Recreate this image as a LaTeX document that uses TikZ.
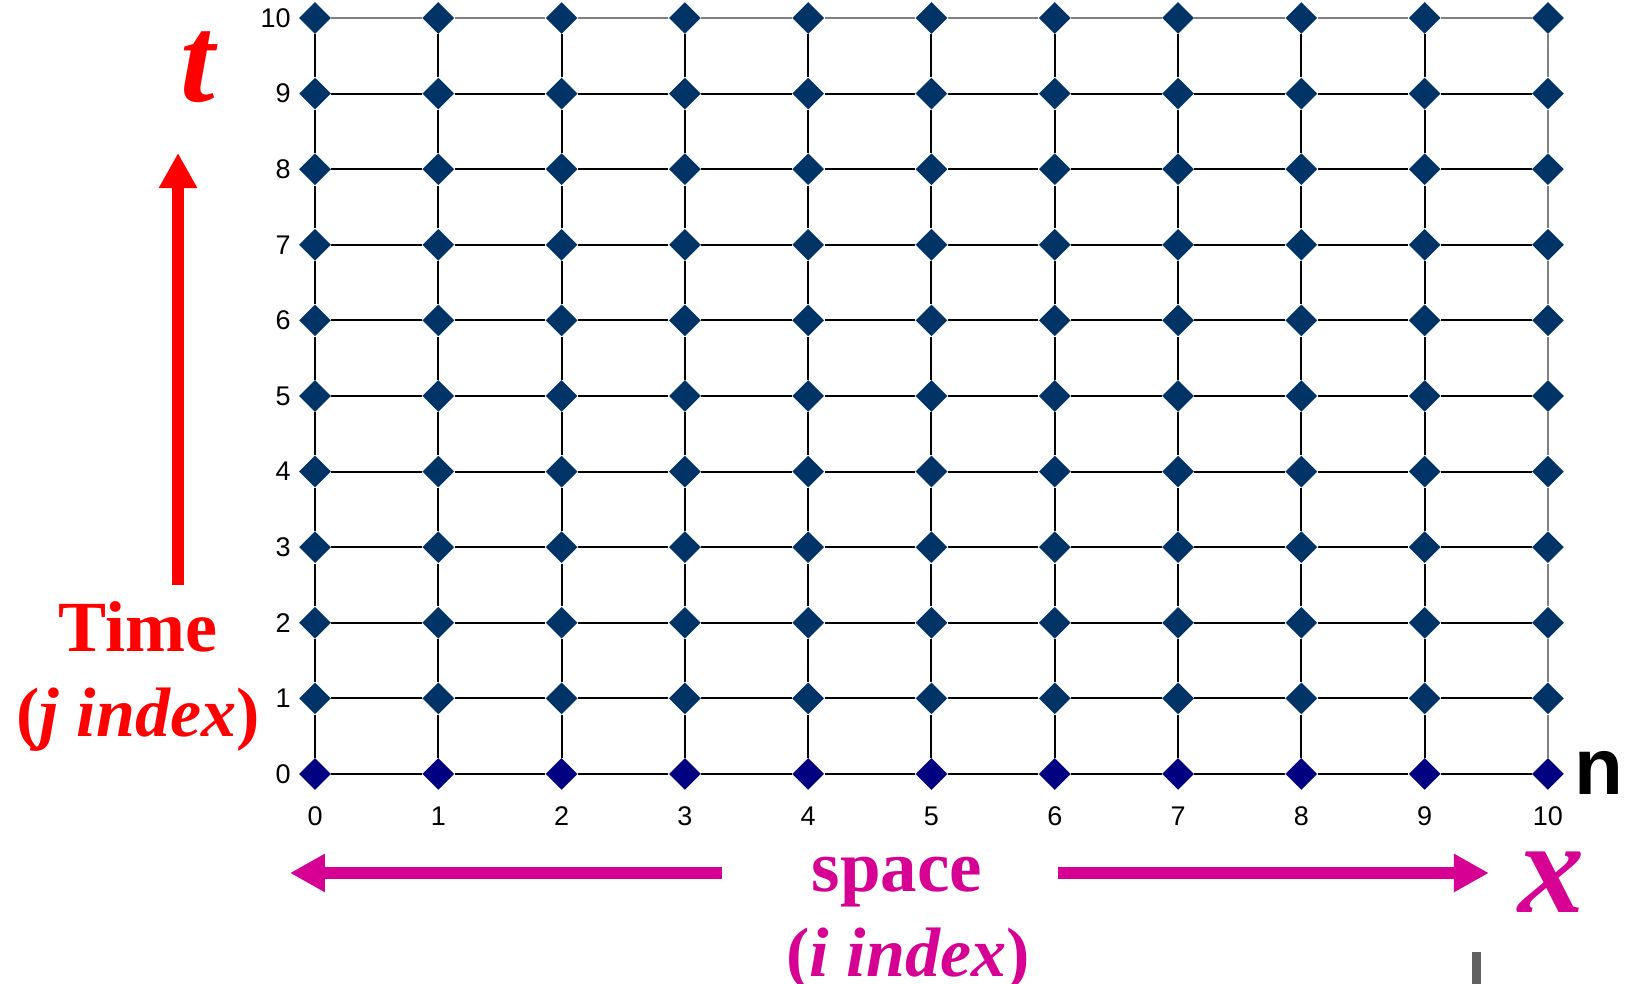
\documentclass[tikz,border=0pt]{standalone}
\usepackage{fontspec}
\setmainfont{Liberation Serif}
\setsansfont{Liberation Sans}
\usetikzlibrary{shapes.geometric,arrows.meta}
\definecolor{gridnode}{RGB}{0,51,102}
\definecolor{basenode}{RGB}{0,0,128}
\definecolor{timecol}{RGB}{255,0,0}
\definecolor{spacecol}{RGB}{214,0,147}
\definecolor{edgegray}{RGB}{128,128,128}

\begin{document}
\begin{tikzpicture}[x=61.65pt,y=37.8pt,
  mesh/.style={diamond,minimum width=16pt,minimum height=16pt,inner sep=0pt},
  gridline/.style={line width=1pt},
  tick/.style={font=\sffamily\fontsize{13.5}{13.5}\selectfont,inner sep=0pt},
  bigarrow/.style={line width=6pt,-{Triangle[length=17.5pt,width=18pt]}}]
\useasboundingbox (-2.555,-2.778) rectangle (10.625,10.238);
% mesh points
\foreach \i in {0,...,10}{
  \foreach \j in {0,...,10}{
    \ifnum\j=0 \def\fc{basenode}\else\def\fc{gridnode}\fi
    \node[mesh,fill=\fc] (p\i-\j) at (\i,\j) {};
  }
}
% mesh lines
\foreach \i in {0,...,9}{
  \pgfmathtruncatemacro\k{\i+1}
  \foreach \j in {0,...,10}{
    \ifnum\j=10 \def\lc{edgegray}\else\def\lc{black}\fi
    \draw[gridline,\lc] (p\i-\j) -- (p\k-\j);
    \draw[gridline,\lc] (p\j-\i) -- (p\j-\k);
  }
}
% axis numbers
\foreach \j in {0,...,10}{ \node[tick,anchor=east] (yl\j) at (-0.195,\j) {\j}; }
\foreach \i in {0,...,10}{ \node[tick] (xl\i) at (\i,-0.556) {\i}; }
\node[font=\sffamily\bfseries\fontsize{40}{40}\selectfont,anchor=base,inner sep=0pt] (nlbl) at (10.414,-0.278) {n};
% time axis
\coordinate (tlow) at (-1.111,2.5);
\coordinate (thigh) at (-1.111,8.214);
\draw[bigarrow,timecol] (tlow) -- (thigh);
\node[timecol,font=\bfseries\itshape\fontsize{62}{62}\selectfont,anchor=base,inner sep=0pt] (tlbl) at (-0.949,8.889) {t};
\node[timecol,font=\bfseries\fontsize{36}{36}\selectfont,anchor=base,inner sep=0pt] (timelbl) at (-1.4355,1.614) {Time};
\node[timecol,font=\bfseries\fontsize{35}{35}\selectfont,anchor=base,inner sep=0pt] (jlbl) at (-1.4355,0.489) {(\textit{j index})};
% space axis
\coordinate (sleftstart) at (3.301,-1.310);
\coordinate (slefttip) at (-0.203,-1.310);
\coordinate (srightstart) at (6.026,-1.310);
\coordinate (srighttip) at (9.521,-1.310);
\draw[bigarrow,spacecol] (sleftstart) -- (slefttip);
\draw[bigarrow,spacecol] (srightstart) -- (srighttip);
\node[spacecol,font=\bfseries\itshape\fontsize{66}{66}\selectfont,anchor=base,inner sep=0pt] (xlbl) at (10.032,-1.839) {x};
\node[spacecol,font=\bfseries\fontsize{36.5}{36.5}\selectfont,anchor=base,inner sep=0pt] (spacelbl) at (4.72,-1.561) {space};
\node[spacecol,font=\bfseries\fontsize{35}{35}\selectfont,anchor=base,inner sep=0pt] (ilbl) at (4.81,-2.685) {(\textit{i index})};
% cut-off mark at the bottom edge
\fill[black!62] (9.384,-2.778) rectangle (9.457,-2.354);
\end{tikzpicture}
\end{document}
